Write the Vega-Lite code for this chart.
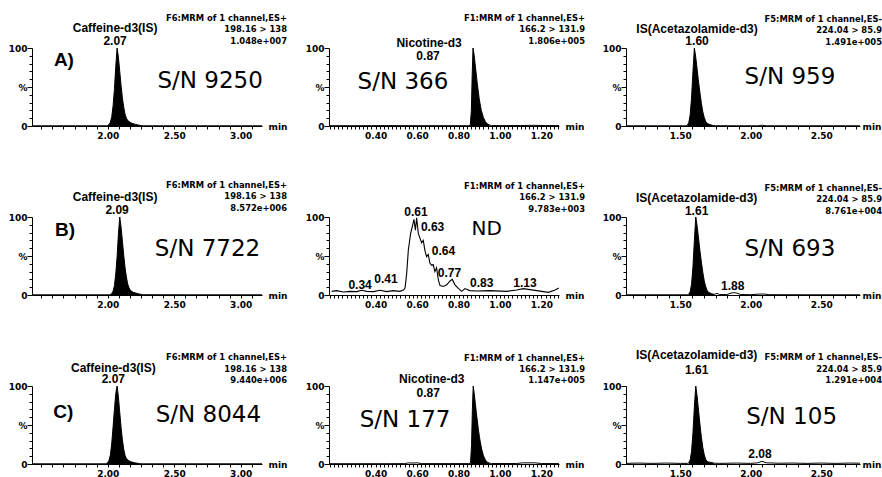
{
"$schema":"https://vega.github.io/schema/vega-lite/v6.json",
"background":"white",
"padding":{"left":8,"top":14,"right":0,"bottom":0},
"bounds":"flush",
"align":"each",
"columns":3,
"spacing":{"row":91,"column":67},
"config":{
 "view":{"stroke":null},
 "axis":{"grid":false,"domainColor":"#000","domainWidth":1,"tickColor":"#000","tickWidth":1,"labelColor":"#000","labelFont":"DejaVu Sans","labelFontWeight":"bold","labelFontSize":9,"labelOverlap":false,"labelFlush":false,"labelBound":false},
 "axisX":{"tickSize":3,"labelPadding":2,"titleFont":"DejaVu Sans","titleFontWeight":"bold","titleFontSize":9,"titleColor":"#000","titleX":236,"titleY":0,"titleAlign":"left","titleBaseline":"middle","titleAnchor":"start"},
 "axisY":{"labelPadding":0},
 "title":{"anchor":"end","frame":"group","align":"right","font":"DejaVu Sans","fontWeight":"bold","fontSize":8.4,"lineHeight":11.3,"offset":0,"color":"#000"}
},
"datasets":{
"tr":[
{"p":"A1","t":1.43,"v":0.3,"f":0},{"p":"A1","t":1.6,"v":0.3,"f":0},{"p":"A1","t":1.8,"v":0.3,"f":0},{"p":"A1","t":1.99,"v":0.3,"f":0},{"p":"A1","t":2.0,"v":0.8,"f":1},{"p":"A1","t":2.01,"v":2,"f":1},{"p":"A1","t":2.02,"v":5,"f":1},{"p":"A1","t":2.03,"v":12,"f":1},{"p":"A1","t":2.04,"v":26,"f":1},{"p":"A1","t":2.05,"v":47,"f":1},{"p":"A1","t":2.06,"v":76,"f":1},{"p":"A1","t":2.07,"v":100,"f":1},{"p":"A1","t":2.08,"v":88,"f":1},{"p":"A1","t":2.09,"v":70,"f":1},{"p":"A1","t":2.1,"v":52,"f":1},{"p":"A1","t":2.11,"v":36,"f":1},{"p":"A1","t":2.12,"v":24,"f":1},{"p":"A1","t":2.13,"v":15,"f":1},{"p":"A1","t":2.14,"v":10,"f":1},{"p":"A1","t":2.15,"v":7,"f":1},{"p":"A1","t":2.17,"v":4.5,"f":1},{"p":"A1","t":2.19,"v":3,"f":1},{"p":"A1","t":2.21,"v":2,"f":1},{"p":"A1","t":2.23,"v":1.2,"f":1},{"p":"A1","t":2.25,"v":0.6,"f":1},{"p":"A1","t":2.27,"v":0.3,"f":0},{"p":"A1","t":2.5,"v":0.3,"f":0},{"p":"A1","t":2.8,"v":0.3,"f":0},{"p":"A1","t":3.16,"v":0.3,"f":0},
{"p":"B1","t":1.43,"v":0.3,"f":0},{"p":"B1","t":1.7,"v":0.3,"f":0},{"p":"B1","t":2.01,"v":0.3,"f":0},{"p":"B1","t":2.02,"v":0.8,"f":1},{"p":"B1","t":2.03,"v":2,"f":1},{"p":"B1","t":2.04,"v":5,"f":1},{"p":"B1","t":2.05,"v":12,"f":1},{"p":"B1","t":2.06,"v":27,"f":1},{"p":"B1","t":2.07,"v":49,"f":1},{"p":"B1","t":2.08,"v":78,"f":1},{"p":"B1","t":2.09,"v":100,"f":1},{"p":"B1","t":2.1,"v":87,"f":1},{"p":"B1","t":2.11,"v":69,"f":1},{"p":"B1","t":2.12,"v":51,"f":1},{"p":"B1","t":2.13,"v":35,"f":1},{"p":"B1","t":2.14,"v":23,"f":1},{"p":"B1","t":2.15,"v":14,"f":1},{"p":"B1","t":2.16,"v":9,"f":1},{"p":"B1","t":2.17,"v":6,"f":1},{"p":"B1","t":2.19,"v":3.5,"f":1},{"p":"B1","t":2.21,"v":2.5,"f":1},{"p":"B1","t":2.23,"v":1.6,"f":1},{"p":"B1","t":2.25,"v":0.8,"f":1},{"p":"B1","t":2.27,"v":0.4,"f":0},{"p":"B1","t":2.6,"v":0.3,"f":0},{"p":"B1","t":3.16,"v":0.3,"f":0},
{"p":"C1","t":1.43,"v":0.3,"f":0},{"p":"C1","t":1.7,"v":0.3,"f":0},{"p":"C1","t":1.98,"v":0.3,"f":0},{"p":"C1","t":1.99,"v":0.8,"f":1},{"p":"C1","t":2.0,"v":2,"f":1},{"p":"C1","t":2.01,"v":5,"f":1},{"p":"C1","t":2.02,"v":12,"f":1},{"p":"C1","t":2.03,"v":27,"f":1},{"p":"C1","t":2.04,"v":48,"f":1},{"p":"C1","t":2.05,"v":70,"f":1},{"p":"C1","t":2.06,"v":90,"f":1},{"p":"C1","t":2.07,"v":100,"f":1},{"p":"C1","t":2.08,"v":86,"f":1},{"p":"C1","t":2.09,"v":66,"f":1},{"p":"C1","t":2.1,"v":47,"f":1},{"p":"C1","t":2.11,"v":31,"f":1},{"p":"C1","t":2.12,"v":19,"f":1},{"p":"C1","t":2.13,"v":11,"f":1},{"p":"C1","t":2.14,"v":7,"f":1},{"p":"C1","t":2.16,"v":4,"f":1},{"p":"C1","t":2.18,"v":2.5,"f":1},{"p":"C1","t":2.2,"v":1.6,"f":1},{"p":"C1","t":2.22,"v":1,"f":1},{"p":"C1","t":2.24,"v":0.5,"f":1},{"p":"C1","t":2.26,"v":0.3,"f":0},{"p":"C1","t":2.6,"v":0.3,"f":0},{"p":"C1","t":3.16,"v":0.3,"f":0},
{"p":"A2","t":0.175,"v":0.4,"f":0},{"p":"A2","t":0.3,"v":0.4,"f":0},{"p":"A2","t":0.45,"v":0.5,"f":0},{"p":"A2","t":0.6,"v":0.4,"f":0},{"p":"A2","t":0.75,"v":0.4,"f":0},{"p":"A2","t":0.85,"v":0.4,"f":0},{"p":"A2","t":0.857,"v":1,"f":1},{"p":"A2","t":0.862,"v":20,"f":1},{"p":"A2","t":0.866,"v":65,"f":1},{"p":"A2","t":0.87,"v":100,"f":1},{"p":"A2","t":0.875,"v":92,"f":1},{"p":"A2","t":0.88,"v":80,"f":1},{"p":"A2","t":0.885,"v":68,"f":1},{"p":"A2","t":0.89,"v":56,"f":1},{"p":"A2","t":0.895,"v":45,"f":1},{"p":"A2","t":0.9,"v":35,"f":1},{"p":"A2","t":0.905,"v":27,"f":1},{"p":"A2","t":0.91,"v":20,"f":1},{"p":"A2","t":0.92,"v":11,"f":1},{"p":"A2","t":0.93,"v":5.5,"f":1},{"p":"A2","t":0.94,"v":2.5,"f":1},{"p":"A2","t":0.95,"v":1.2,"f":1},{"p":"A2","t":0.96,"v":0.6,"f":0},{"p":"A2","t":1.0,"v":0.5,"f":0},{"p":"A2","t":1.1,"v":0.6,"f":0},{"p":"A2","t":1.16,"v":0.9,"f":0},{"p":"A2","t":1.22,"v":0.6,"f":0},{"p":"A2","t":1.285,"v":0.5,"f":0},
{"p":"C2","t":0.175,"v":0.4,"f":0},{"p":"C2","t":0.3,"v":0.4,"f":0},{"p":"C2","t":0.45,"v":0.4,"f":0},{"p":"C2","t":0.54,"v":0.5,"f":0},{"p":"C2","t":0.56,"v":1.5,"f":0},{"p":"C2","t":0.58,"v":1.2,"f":0},{"p":"C2","t":0.6,"v":1.6,"f":0},{"p":"C2","t":0.62,"v":0.5,"f":0},{"p":"C2","t":0.75,"v":0.5,"f":0},{"p":"C2","t":0.85,"v":0.5,"f":0},{"p":"C2","t":0.858,"v":1,"f":1},{"p":"C2","t":0.863,"v":25,"f":1},{"p":"C2","t":0.867,"v":70,"f":1},{"p":"C2","t":0.871,"v":100,"f":1},{"p":"C2","t":0.876,"v":90,"f":1},{"p":"C2","t":0.881,"v":78,"f":1},{"p":"C2","t":0.886,"v":66,"f":1},{"p":"C2","t":0.891,"v":55,"f":1},{"p":"C2","t":0.896,"v":44,"f":1},{"p":"C2","t":0.901,"v":35,"f":1},{"p":"C2","t":0.906,"v":27,"f":1},{"p":"C2","t":0.912,"v":19,"f":1},{"p":"C2","t":0.92,"v":11,"f":1},{"p":"C2","t":0.93,"v":5,"f":1},{"p":"C2","t":0.94,"v":2.2,"f":1},{"p":"C2","t":0.95,"v":1,"f":1},{"p":"C2","t":0.96,"v":0.6,"f":0},{"p":"C2","t":1.0,"v":0.6,"f":0},{"p":"C2","t":1.08,"v":0.6,"f":0},{"p":"C2","t":1.11,"v":1.5,"f":0},{"p":"C2","t":1.17,"v":1.5,"f":0},{"p":"C2","t":1.2,"v":0.6,"f":0},{"p":"C2","t":1.285,"v":0.5,"f":0},
{"p":"B2","t":0.188,"v":4.7,"f":0},{"p":"B2","t":0.212,"v":5.6,"f":0},{"p":"B2","t":0.244,"v":3.9,"f":0},{"p":"B2","t":0.276,"v":4.7,"f":0},{"p":"B2","t":0.309,"v":4.3,"f":0},{"p":"B2","t":0.333,"v":6.0,"f":0},{"p":"B2","t":0.357,"v":4.7,"f":0},{"p":"B2","t":0.389,"v":4.3,"f":0},{"p":"B2","t":0.421,"v":6.0,"f":0},{"p":"B2","t":0.453,"v":4.3,"f":0},{"p":"B2","t":0.485,"v":5.6,"f":0},{"p":"B2","t":0.517,"v":4.7,"f":0},{"p":"B2","t":0.534,"v":6.4,"f":0},{"p":"B2","t":0.542,"v":9,"f":0},{"p":"B2","t":0.55,"v":28,"f":0},{"p":"B2","t":0.558,"v":58,"f":0},{"p":"B2","t":0.569,"v":79,"f":0},{"p":"B2","t":0.579,"v":90,"f":0},{"p":"B2","t":0.585,"v":97,"f":0},{"p":"B2","t":0.592,"v":83,"f":0},{"p":"B2","t":0.598,"v":99,"f":0},{"p":"B2","t":0.606,"v":79,"f":0},{"p":"B2","t":0.614,"v":73,"f":0},{"p":"B2","t":0.622,"v":67,"f":0},{"p":"B2","t":0.63,"v":70,"f":0},{"p":"B2","t":0.638,"v":57,"f":0},{"p":"B2","t":0.646,"v":49,"f":0},{"p":"B2","t":0.654,"v":52,"f":0},{"p":"B2","t":0.662,"v":41,"f":0},{"p":"B2","t":0.67,"v":38,"f":0},{"p":"B2","t":0.678,"v":39,"f":0},{"p":"B2","t":0.686,"v":30,"f":0},{"p":"B2","t":0.694,"v":35,"f":0},{"p":"B2","t":0.703,"v":19,"f":0},{"p":"B2","t":0.711,"v":12,"f":0},{"p":"B2","t":0.727,"v":11,"f":0},{"p":"B2","t":0.743,"v":13,"f":0},{"p":"B2","t":0.759,"v":18,"f":0},{"p":"B2","t":0.77,"v":20,"f":0},{"p":"B2","t":0.783,"v":13,"f":0},{"p":"B2","t":0.799,"v":8.6,"f":0},{"p":"B2","t":0.815,"v":4.7,"f":0},{"p":"B2","t":0.831,"v":8.2,"f":0},{"p":"B2","t":0.855,"v":5.6,"f":0},{"p":"B2","t":0.887,"v":5.2,"f":0},{"p":"B2","t":0.952,"v":5.6,"f":0},{"p":"B2","t":1.032,"v":4.7,"f":0},{"p":"B2","t":1.081,"v":6.4,"f":0},{"p":"B2","t":1.113,"v":8.2,"f":0},{"p":"B2","t":1.145,"v":6.9,"f":0},{"p":"B2","t":1.21,"v":4.3,"f":0},{"p":"B2","t":1.234,"v":3.4,"f":0},{"p":"B2","t":1.266,"v":6.4,"f":0},{"p":"B2","t":1.284,"v":9,"f":0},
{"p":"A3","t":1.115,"v":0.3,"f":0},{"p":"A3","t":1.3,"v":0.3,"f":0},{"p":"A3","t":1.45,"v":0.3,"f":0},{"p":"A3","t":1.54,"v":0.3,"f":0},{"p":"A3","t":1.55,"v":1,"f":1},{"p":"A3","t":1.56,"v":4,"f":1},{"p":"A3","t":1.57,"v":14,"f":1},{"p":"A3","t":1.58,"v":36,"f":1},{"p":"A3","t":1.59,"v":70,"f":1},{"p":"A3","t":1.6,"v":100,"f":1},{"p":"A3","t":1.61,"v":88,"f":1},{"p":"A3","t":1.62,"v":72,"f":1},{"p":"A3","t":1.63,"v":56,"f":1},{"p":"A3","t":1.64,"v":42,"f":1},{"p":"A3","t":1.65,"v":29,"f":1},{"p":"A3","t":1.66,"v":18,"f":1},{"p":"A3","t":1.67,"v":11,"f":1},{"p":"A3","t":1.68,"v":6,"f":1},{"p":"A3","t":1.69,"v":3.5,"f":1},{"p":"A3","t":1.71,"v":1.8,"f":1},{"p":"A3","t":1.73,"v":0.8,"f":1},{"p":"A3","t":1.75,"v":0.4,"f":0},{"p":"A3","t":1.9,"v":0.3,"f":0},{"p":"A3","t":2.05,"v":0.3,"f":0},{"p":"A3","t":2.08,"v":1,"f":0},{"p":"A3","t":2.11,"v":0.3,"f":0},{"p":"A3","t":2.4,"v":0.3,"f":0},{"p":"A3","t":2.775,"v":0.3,"f":0},
{"p":"B3","t":1.115,"v":0.3,"f":0},{"p":"B3","t":1.3,"v":0.3,"f":0},{"p":"B3","t":1.45,"v":0.3,"f":0},{"p":"B3","t":1.55,"v":0.3,"f":0},{"p":"B3","t":1.56,"v":1,"f":1},{"p":"B3","t":1.57,"v":4,"f":1},{"p":"B3","t":1.58,"v":14,"f":1},{"p":"B3","t":1.59,"v":36,"f":1},{"p":"B3","t":1.6,"v":70,"f":1},{"p":"B3","t":1.61,"v":100,"f":1},{"p":"B3","t":1.62,"v":88,"f":1},{"p":"B3","t":1.63,"v":72,"f":1},{"p":"B3","t":1.64,"v":56,"f":1},{"p":"B3","t":1.65,"v":42,"f":1},{"p":"B3","t":1.66,"v":29,"f":1},{"p":"B3","t":1.67,"v":18,"f":1},{"p":"B3","t":1.68,"v":11,"f":1},{"p":"B3","t":1.69,"v":6,"f":1},{"p":"B3","t":1.7,"v":3.5,"f":1},{"p":"B3","t":1.72,"v":1.8,"f":1},{"p":"B3","t":1.74,"v":0.8,"f":1},{"p":"B3","t":1.76,"v":2,"f":0},{"p":"B3","t":1.78,"v":0.6,"f":0},{"p":"B3","t":1.83,"v":0.5,"f":0},{"p":"B3","t":1.86,"v":2.5,"f":0},{"p":"B3","t":1.88,"v":3,"f":0},{"p":"B3","t":1.9,"v":2.5,"f":0},{"p":"B3","t":1.93,"v":0.6,"f":0},{"p":"B3","t":2.0,"v":0.4,"f":0},{"p":"B3","t":2.06,"v":1.2,"f":0},{"p":"B3","t":2.1,"v":1.2,"f":0},{"p":"B3","t":2.13,"v":0.4,"f":0},{"p":"B3","t":2.4,"v":0.3,"f":0},{"p":"B3","t":2.775,"v":0.3,"f":0},
{"p":"C3","t":1.115,"v":0.8,"f":0},{"p":"C3","t":1.2,"v":1.2,"f":0},{"p":"C3","t":1.3,"v":0.8,"f":0},{"p":"C3","t":1.4,"v":1.2,"f":0},{"p":"C3","t":1.5,"v":0.8,"f":0},{"p":"C3","t":1.55,"v":0.8,"f":0},{"p":"C3","t":1.56,"v":1.5,"f":1},{"p":"C3","t":1.57,"v":5,"f":1},{"p":"C3","t":1.58,"v":16,"f":1},{"p":"C3","t":1.59,"v":40,"f":1},{"p":"C3","t":1.6,"v":73,"f":1},{"p":"C3","t":1.61,"v":100,"f":1},{"p":"C3","t":1.62,"v":86,"f":1},{"p":"C3","t":1.63,"v":68,"f":1},{"p":"C3","t":1.64,"v":50,"f":1},{"p":"C3","t":1.65,"v":34,"f":1},{"p":"C3","t":1.66,"v":21,"f":1},{"p":"C3","t":1.67,"v":12,"f":1},{"p":"C3","t":1.68,"v":6,"f":1},{"p":"C3","t":1.69,"v":3.5,"f":1},{"p":"C3","t":1.7,"v":2.5,"f":1},{"p":"C3","t":1.72,"v":2,"f":1},{"p":"C3","t":1.74,"v":1,"f":1},{"p":"C3","t":1.78,"v":0.8,"f":0},{"p":"C3","t":1.9,"v":1.2,"f":0},{"p":"C3","t":2.0,"v":0.8,"f":0},{"p":"C3","t":2.05,"v":1.5,"f":0},{"p":"C3","t":2.08,"v":3.5,"f":0},{"p":"C3","t":2.11,"v":1.5,"f":0},{"p":"C3","t":2.2,"v":1,"f":0},{"p":"C3","t":2.3,"v":1.2,"f":0},{"p":"C3","t":2.4,"v":0.8,"f":0},{"p":"C3","t":2.5,"v":1.2,"f":0},{"p":"C3","t":2.6,"v":0.8,"f":0},{"p":"C3","t":2.7,"v":1.2,"f":0},{"p":"C3","t":2.775,"v":1,"f":0}
],
"lb":[
{"p":"A1","t":2.055,"v":125.6,"s":"Caffeine-d3(IS)","k":"pk"},{"p":"A1","t":2.055,"v":109,"s":"2.07","k":"pk"},{"p":"A1","t":1.67,"v":84.6,"s":"A)","k":"tag"},{"p":"A1","t":2.77,"v":58.3,"s":"S/N 9250","k":"sn"},
{"p":"A2","t":0.658,"v":106.4,"s":"Nicotine-d3","k":"pk"},{"p":"A2","t":0.653,"v":89.7,"s":"0.87","k":"pk"},{"p":"A2","t":0.532,"v":56.4,"s":"S/N 366","k":"sn"},
{"p":"A3","t":1.619,"v":124,"s":"IS(Acetazolamide-d3)","k":"pk"},{"p":"A3","t":1.619,"v":109,"s":"1.60","k":"pk"},{"p":"A3","t":2.278,"v":62.5,"s":"S/N 959","k":"sn"},
{"p":"B1","t":2.055,"v":125.7,"s":"Caffeine-d3(IS)","k":"pk"},{"p":"B1","t":2.07,"v":108.6,"s":"2.09","k":"pk"},{"p":"B1","t":1.678,"v":83.7,"s":"B)","k":"tag"},{"p":"B1","t":2.75,"v":59.2,"s":"S/N 7722","k":"sn"},
{"p":"B2","t":0.595,"v":106.8,"s":"0.61","k":"pk"},{"p":"B2","t":0.675,"v":87.5,"s":"0.63","k":"pk"},{"p":"B2","t":0.727,"v":56.8,"s":"0.64","k":"pk"},{"p":"B2","t":0.756,"v":28,"s":"0.77","k":"pk"},{"p":"B2","t":0.912,"v":15,"s":"0.83","k":"pk"},{"p":"B2","t":1.121,"v":15,"s":"1.13","k":"pk"},{"p":"B2","t":0.325,"v":13,"s":"0.34","k":"pk"},{"p":"B2","t":0.45,"v":20.3,"s":"0.41","k":"pk"},{"p":"B2","t":0.936,"v":85,"s":"ND","k":"sn"},
{"p":"B3","t":1.616,"v":124.6,"s":"IS(Acetazolamide-d3)","k":"pk"},{"p":"B3","t":1.616,"v":107.7,"s":"1.61","k":"pk"},{"p":"B3","t":2.278,"v":59.6,"s":"S/N 693","k":"sn"},{"p":"B3","t":1.872,"v":12,"s":"1.88","k":"pk"},
{"p":"C1","t":2.042,"v":122.6,"s":"Caffeine-d3(IS)","k":"pk"},{"p":"C1","t":2.042,"v":108.6,"s":"2.07","k":"pk"},{"p":"C1","t":1.666,"v":66.5,"s":"C)","k":"tag"},{"p":"C1","t":2.757,"v":63,"s":"S/N 8044","k":"sn"},
{"p":"C2","t":0.671,"v":108.8,"s":"Nicotine-d3","k":"pk"},{"p":"C2","t":0.654,"v":91.3,"s":"0.87","k":"pk"},{"p":"C2","t":0.542,"v":57,"s":"S/N 177","k":"sn"},
{"p":"C3","t":1.616,"v":139.4,"s":"IS(Acetazolamide-d3)","k":"pk"},{"p":"C3","t":1.616,"v":121,"s":"1.61","k":"pk"},{"p":"C3","t":2.29,"v":60,"s":"S/N 105","k":"sn"},{"p":"C3","t":2.065,"v":12.9,"s":"2.08","k":"pk"}
]
},
"concat":[
 {"width":230,"height":78,"title":{"text":["F6:MRM of 1 channel,ES+","198.16 > 138","1.048e+007"],"dx":25,"dy":27},
  "encoding":{"x":{"field":"t","type":"quantitative","scale":{"domain":[1.43,3.16],"nice":false,"zero":false},"axis":{"values":[1.5,1.5833,1.6667,1.75,1.8333,1.9167,2,2.0833,2.1667,2.25,2.3333,2.4167,2.5,2.5833,2.6667,2.75,2.8333,2.9167,3,3.0833],"labelExpr":"indexof(['2.00','2.50','3.00'],format(datum.value,'.2f'))>=0?format(datum.value,'.2f'):''","title":"min"}},
   "y":{"field":"v","type":"quantitative","scale":{"domain":[0,100],"nice":false},"axis":{"values":[0,10,20,30,40,50,60,70,80,90,100],"labelExpr":"datum.value==100?'100':datum.value==50?'%':datum.value==0?'0':''","tickSize":{"condition":{"test":"datum.value%50==0","value":5},"value":3},"title":null}}},
  "layer":[
   {"data":{"name":"tr"},"transform":[{"filter":"datum.p=='A1'&&datum.f==1"}],"mark":{"type":"area","color":"#000"}},
   {"data":{"name":"tr"},"transform":[{"filter":"datum.p=='A1'"}],"mark":{"type":"line","color":"#000","strokeWidth":1}},
   {"data":{"name":"lb"},"transform":[{"filter":"datum.p=='A1'&&datum.k!='sn'"}],"mark":{"type":"text","font":"Liberation Sans","fontWeight":"bold","color":"#000"},"encoding":{"text":{"field":"s","type":"nominal"},"size":{"condition":{"test":"datum.k=='tag'","value":19},"value":12}}},
   {"data":{"name":"lb"},"transform":[{"filter":"datum.p=='A1'&&datum.k=='sn'"}],"mark":{"type":"text","font":"DejaVu Sans","color":"#000"},"encoding":{"text":{"field":"s","type":"nominal"},"size":{"condition":{"test":"datum.s=='ND'","value":20},"value":23}}}
  ]},
 {"width":230,"height":78,"title":{"text":["F1:MRM of 1 channel,ES+","166.2 > 131.9","1.806e+005"],"dx":26,"dy":12},
  "encoding":{"x":{"field":"t","type":"quantitative","scale":{"domain":[0.175,1.285],"nice":false,"zero":false},"axis":{"values":[0.18,0.2,0.22,0.24,0.26,0.28,0.3,0.32,0.34,0.36,0.38,0.4,0.42,0.44,0.46,0.48,0.5,0.52,0.54,0.56,0.58,0.6,0.62,0.64,0.66,0.68,0.7,0.72,0.74,0.76,0.78,0.8,0.82,0.84,0.86,0.88,0.9,0.92,0.94,0.96,0.98,1,1.02,1.04,1.06,1.08,1.1,1.12,1.14,1.16,1.18,1.2,1.22,1.24,1.26,1.28],"labelExpr":"indexof(['0.40','0.60','0.80','1.00','1.20'],format(datum.value,'.2f'))>=0?format(datum.value,'.2f'):''","title":"min"}},
   "y":{"field":"v","type":"quantitative","scale":{"domain":[0,100],"nice":false},"axis":{"values":[0,10,20,30,40,50,60,70,80,90,100],"labelExpr":"datum.value==100?'100':datum.value==50?'%':datum.value==0?'0':''","tickSize":{"condition":{"test":"datum.value%50==0","value":5},"value":3},"title":null}}},
  "layer":[
   {"data":{"name":"tr"},"transform":[{"filter":"datum.p=='A2'&&datum.f==1"}],"mark":{"type":"area","color":"#000"}},
   {"data":{"name":"tr"},"transform":[{"filter":"datum.p=='A2'"}],"mark":{"type":"line","color":"#000","strokeWidth":1}},
   {"data":{"name":"lb"},"transform":[{"filter":"datum.p=='A2'&&datum.k!='sn'"}],"mark":{"type":"text","font":"Liberation Sans","fontWeight":"bold","color":"#000"},"encoding":{"text":{"field":"s","type":"nominal"},"size":{"condition":{"test":"datum.k=='tag'","value":19},"value":12}}},
   {"data":{"name":"lb"},"transform":[{"filter":"datum.p=='A2'&&datum.k=='sn'"}],"mark":{"type":"text","font":"DejaVu Sans","color":"#000"},"encoding":{"text":{"field":"s","type":"nominal"},"size":{"condition":{"test":"datum.s=='ND'","value":20},"value":23}}}
  ]},
 {"width":234,"height":78,"title":{"text":["F5:MRM of 1 channel,ES-","224.04 > 85.9","1.491e+005"],"dx":22,"dy":26.7},
  "encoding":{"x":{"field":"t","type":"quantitative","scale":{"domain":[1.115,2.775],"nice":false,"zero":false},"axis":{"values":[1.1667,1.25,1.3333,1.4167,1.5,1.5833,1.6667,1.75,1.8333,1.9167,2,2.0833,2.1667,2.25,2.3333,2.4167,2.5,2.5833,2.6667,2.75],"labelExpr":"indexof(['1.50','2.00','2.50'],format(datum.value,'.2f'))>=0?format(datum.value,'.2f'):''","title":"min"}},
   "y":{"field":"v","type":"quantitative","scale":{"domain":[0,100],"nice":false},"axis":{"values":[0,10,20,30,40,50,60,70,80,90,100],"labelExpr":"datum.value==100?'100':datum.value==50?'%':datum.value==0?'0':''","tickSize":{"condition":{"test":"datum.value%50==0","value":5},"value":3},"title":null}}},
  "layer":[
   {"data":{"name":"tr"},"transform":[{"filter":"datum.p=='A3'&&datum.f==1"}],"mark":{"type":"area","color":"#000"}},
   {"data":{"name":"tr"},"transform":[{"filter":"datum.p=='A3'"}],"mark":{"type":"line","color":"#000","strokeWidth":1}},
   {"data":{"name":"lb"},"transform":[{"filter":"datum.p=='A3'&&datum.k!='sn'"}],"mark":{"type":"text","font":"Liberation Sans","fontWeight":"bold","color":"#000"},"encoding":{"text":{"field":"s","type":"nominal"},"size":{"condition":{"test":"datum.k=='tag'","value":19},"value":12}}},
   {"data":{"name":"lb"},"transform":[{"filter":"datum.p=='A3'&&datum.k=='sn'"}],"mark":{"type":"text","font":"DejaVu Sans","color":"#000"},"encoding":{"text":{"field":"s","type":"nominal"},"size":{"condition":{"test":"datum.s=='ND'","value":20},"value":23}}}
  ]},
 {"width":230,"height":78,"title":{"text":["F6:MRM of 1 channel,ES+","198.16 > 138","8.572e+006"],"dx":25,"dy":25},
  "encoding":{"x":{"field":"t","type":"quantitative","scale":{"domain":[1.43,3.16],"nice":false,"zero":false},"axis":{"values":[1.5,1.5833,1.6667,1.75,1.8333,1.9167,2,2.0833,2.1667,2.25,2.3333,2.4167,2.5,2.5833,2.6667,2.75,2.8333,2.9167,3,3.0833],"labelExpr":"indexof(['2.00','2.50','3.00'],format(datum.value,'.2f'))>=0?format(datum.value,'.2f'):''","title":"min"}},
   "y":{"field":"v","type":"quantitative","scale":{"domain":[0,100],"nice":false},"axis":{"values":[0,10,20,30,40,50,60,70,80,90,100],"labelExpr":"datum.value==100?'100':datum.value==50?'%':datum.value==0?'0':''","tickSize":{"condition":{"test":"datum.value%50==0","value":5},"value":3},"title":null}}},
  "layer":[
   {"data":{"name":"tr"},"transform":[{"filter":"datum.p=='B1'&&datum.f==1"}],"mark":{"type":"area","color":"#000"}},
   {"data":{"name":"tr"},"transform":[{"filter":"datum.p=='B1'"}],"mark":{"type":"line","color":"#000","strokeWidth":1}},
   {"data":{"name":"lb"},"transform":[{"filter":"datum.p=='B1'&&datum.k!='sn'"}],"mark":{"type":"text","font":"Liberation Sans","fontWeight":"bold","color":"#000"},"encoding":{"text":{"field":"s","type":"nominal"},"size":{"condition":{"test":"datum.k=='tag'","value":19},"value":12}}},
   {"data":{"name":"lb"},"transform":[{"filter":"datum.p=='B1'&&datum.k=='sn'"}],"mark":{"type":"text","font":"DejaVu Sans","color":"#000"},"encoding":{"text":{"field":"s","type":"nominal"},"size":{"condition":{"test":"datum.s=='ND'","value":20},"value":23}}}
  ]},
 {"width":230,"height":78,"title":{"text":["F1:MRM of 1 channel,ES+","166.2 > 131.9","9.783e+003"],"dx":26,"dy":11.3},
  "encoding":{"x":{"field":"t","type":"quantitative","scale":{"domain":[0.175,1.285],"nice":false,"zero":false},"axis":{"values":[0.18,0.2,0.22,0.24,0.26,0.28,0.3,0.32,0.34,0.36,0.38,0.4,0.42,0.44,0.46,0.48,0.5,0.52,0.54,0.56,0.58,0.6,0.62,0.64,0.66,0.68,0.7,0.72,0.74,0.76,0.78,0.8,0.82,0.84,0.86,0.88,0.9,0.92,0.94,0.96,0.98,1,1.02,1.04,1.06,1.08,1.1,1.12,1.14,1.16,1.18,1.2,1.22,1.24,1.26,1.28],"labelExpr":"indexof(['0.40','0.60','0.80','1.00','1.20'],format(datum.value,'.2f'))>=0?format(datum.value,'.2f'):''","title":"min"}},
   "y":{"field":"v","type":"quantitative","scale":{"domain":[0,100],"nice":false},"axis":{"values":[0,10,20,30,40,50,60,70,80,90,100],"labelExpr":"datum.value==100?'100':datum.value==50?'%':datum.value==0?'0':''","tickSize":{"condition":{"test":"datum.value%50==0","value":5},"value":3},"title":null}}},
  "layer":[
   {"data":{"name":"tr"},"transform":[{"filter":"datum.p=='B2'&&datum.f==1"}],"mark":{"type":"area","color":"#000"}},
   {"data":{"name":"tr"},"transform":[{"filter":"datum.p=='B2'"}],"mark":{"type":"line","color":"#000","strokeWidth":1.1}},
   {"data":{"name":"lb"},"transform":[{"filter":"datum.p=='B2'&&datum.k!='sn'"}],"mark":{"type":"text","font":"Liberation Sans","fontWeight":"bold","color":"#000"},"encoding":{"text":{"field":"s","type":"nominal"},"size":{"condition":{"test":"datum.k=='tag'","value":19},"value":12}}},
   {"data":{"name":"lb"},"transform":[{"filter":"datum.p=='B2'&&datum.k=='sn'"}],"mark":{"type":"text","font":"DejaVu Sans","color":"#000"},"encoding":{"text":{"field":"s","type":"nominal"},"size":{"condition":{"test":"datum.s=='ND'","value":20},"value":23}}}
  ]},
 {"width":234,"height":78,"title":{"text":["F5:MRM of 1 channel,ES-","224.04 > 85.9","8.761e+004"],"dx":22,"dy":27.2},
  "encoding":{"x":{"field":"t","type":"quantitative","scale":{"domain":[1.115,2.775],"nice":false,"zero":false},"axis":{"values":[1.1667,1.25,1.3333,1.4167,1.5,1.5833,1.6667,1.75,1.8333,1.9167,2,2.0833,2.1667,2.25,2.3333,2.4167,2.5,2.5833,2.6667,2.75],"labelExpr":"indexof(['1.50','2.00','2.50'],format(datum.value,'.2f'))>=0?format(datum.value,'.2f'):''","title":"min"}},
   "y":{"field":"v","type":"quantitative","scale":{"domain":[0,100],"nice":false},"axis":{"values":[0,10,20,30,40,50,60,70,80,90,100],"labelExpr":"datum.value==100?'100':datum.value==50?'%':datum.value==0?'0':''","tickSize":{"condition":{"test":"datum.value%50==0","value":5},"value":3},"title":null}}},
  "layer":[
   {"data":{"name":"tr"},"transform":[{"filter":"datum.p=='B3'&&datum.f==1"}],"mark":{"type":"area","color":"#000"}},
   {"data":{"name":"tr"},"transform":[{"filter":"datum.p=='B3'"}],"mark":{"type":"line","color":"#000","strokeWidth":1}},
   {"data":{"name":"lb"},"transform":[{"filter":"datum.p=='B3'&&datum.k!='sn'"}],"mark":{"type":"text","font":"Liberation Sans","fontWeight":"bold","color":"#000"},"encoding":{"text":{"field":"s","type":"nominal"},"size":{"condition":{"test":"datum.k=='tag'","value":19},"value":12}}},
   {"data":{"name":"lb"},"transform":[{"filter":"datum.p=='B3'&&datum.k=='sn'"}],"mark":{"type":"text","font":"DejaVu Sans","color":"#000"},"encoding":{"text":{"field":"s","type":"nominal"},"size":{"condition":{"test":"datum.s=='ND'","value":20},"value":23}}}
  ]},
 {"width":230,"height":78,"title":{"text":["F6:MRM of 1 channel,ES+","198.16 > 138","9.440e+006"],"dx":25,"dy":26.1},
  "encoding":{"x":{"field":"t","type":"quantitative","scale":{"domain":[1.43,3.16],"nice":false,"zero":false},"axis":{"values":[1.5,1.5833,1.6667,1.75,1.8333,1.9167,2,2.0833,2.1667,2.25,2.3333,2.4167,2.5,2.5833,2.6667,2.75,2.8333,2.9167,3,3.0833],"labelExpr":"indexof(['2.00','2.50','3.00'],format(datum.value,'.2f'))>=0?format(datum.value,'.2f'):''","title":"min"}},
   "y":{"field":"v","type":"quantitative","scale":{"domain":[0,100],"nice":false},"axis":{"values":[0,10,20,30,40,50,60,70,80,90,100],"labelExpr":"datum.value==100?'100':datum.value==50?'%':datum.value==0?'0':''","tickSize":{"condition":{"test":"datum.value%50==0","value":5},"value":3},"title":null}}},
  "layer":[
   {"data":{"name":"tr"},"transform":[{"filter":"datum.p=='C1'&&datum.f==1"}],"mark":{"type":"area","color":"#000"}},
   {"data":{"name":"tr"},"transform":[{"filter":"datum.p=='C1'"}],"mark":{"type":"line","color":"#000","strokeWidth":1}},
   {"data":{"name":"lb"},"transform":[{"filter":"datum.p=='C1'&&datum.k!='sn'"}],"mark":{"type":"text","font":"Liberation Sans","fontWeight":"bold","color":"#000"},"encoding":{"text":{"field":"s","type":"nominal"},"size":{"condition":{"test":"datum.k=='tag'","value":19},"value":12}}},
   {"data":{"name":"lb"},"transform":[{"filter":"datum.p=='C1'&&datum.k=='sn'"}],"mark":{"type":"text","font":"DejaVu Sans","color":"#000"},"encoding":{"text":{"field":"s","type":"nominal"},"size":{"condition":{"test":"datum.s=='ND'","value":20},"value":23}}}
  ]},
 {"width":230,"height":78,"title":{"text":["F1:MRM of 1 channel,ES+","166.2 > 131.9","1.147e+005"],"dx":26,"dy":15.4},
  "encoding":{"x":{"field":"t","type":"quantitative","scale":{"domain":[0.175,1.285],"nice":false,"zero":false},"axis":{"values":[0.18,0.2,0.22,0.24,0.26,0.28,0.3,0.32,0.34,0.36,0.38,0.4,0.42,0.44,0.46,0.48,0.5,0.52,0.54,0.56,0.58,0.6,0.62,0.64,0.66,0.68,0.7,0.72,0.74,0.76,0.78,0.8,0.82,0.84,0.86,0.88,0.9,0.92,0.94,0.96,0.98,1,1.02,1.04,1.06,1.08,1.1,1.12,1.14,1.16,1.18,1.2,1.22,1.24,1.26,1.28],"labelExpr":"indexof(['0.40','0.60','0.80','1.00','1.20'],format(datum.value,'.2f'))>=0?format(datum.value,'.2f'):''","title":"min"}},
   "y":{"field":"v","type":"quantitative","scale":{"domain":[0,100],"nice":false},"axis":{"values":[0,10,20,30,40,50,60,70,80,90,100],"labelExpr":"datum.value==100?'100':datum.value==50?'%':datum.value==0?'0':''","tickSize":{"condition":{"test":"datum.value%50==0","value":5},"value":3},"title":null}}},
  "layer":[
   {"data":{"name":"tr"},"transform":[{"filter":"datum.p=='C2'&&datum.f==1"}],"mark":{"type":"area","color":"#000"}},
   {"data":{"name":"tr"},"transform":[{"filter":"datum.p=='C2'"}],"mark":{"type":"line","color":"#000","strokeWidth":1}},
   {"data":{"name":"lb"},"transform":[{"filter":"datum.p=='C2'&&datum.k!='sn'"}],"mark":{"type":"text","font":"Liberation Sans","fontWeight":"bold","color":"#000"},"encoding":{"text":{"field":"s","type":"nominal"},"size":{"condition":{"test":"datum.k=='tag'","value":19},"value":12}}},
   {"data":{"name":"lb"},"transform":[{"filter":"datum.p=='C2'&&datum.k=='sn'"}],"mark":{"type":"text","font":"DejaVu Sans","color":"#000"},"encoding":{"text":{"field":"s","type":"nominal"},"size":{"condition":{"test":"datum.s=='ND'","value":20},"value":23}}}
  ]},
 {"width":234,"height":78,"title":{"text":["F5:MRM of 1 channel,ES-","224.04 > 85.9","1.291e+004"],"dx":22,"dy":39.2},
  "encoding":{"x":{"field":"t","type":"quantitative","scale":{"domain":[1.115,2.775],"nice":false,"zero":false},"axis":{"values":[1.1667,1.25,1.3333,1.4167,1.5,1.5833,1.6667,1.75,1.8333,1.9167,2,2.0833,2.1667,2.25,2.3333,2.4167,2.5,2.5833,2.6667,2.75],"labelExpr":"indexof(['1.50','2.00','2.50'],format(datum.value,'.2f'))>=0?format(datum.value,'.2f'):''","title":"min"}},
   "y":{"field":"v","type":"quantitative","scale":{"domain":[0,100],"nice":false},"axis":{"values":[0,10,20,30,40,50,60,70,80,90,100],"labelExpr":"datum.value==100?'100':datum.value==50?'%':datum.value==0?'0':''","tickSize":{"condition":{"test":"datum.value%50==0","value":5},"value":3},"title":null}}},
  "layer":[
   {"data":{"name":"tr"},"transform":[{"filter":"datum.p=='C3'&&datum.f==1"}],"mark":{"type":"area","color":"#000"}},
   {"data":{"name":"tr"},"transform":[{"filter":"datum.p=='C3'"}],"mark":{"type":"line","color":"#000","strokeWidth":1}},
   {"data":{"name":"lb"},"transform":[{"filter":"datum.p=='C3'&&datum.k!='sn'"}],"mark":{"type":"text","font":"Liberation Sans","fontWeight":"bold","color":"#000"},"encoding":{"text":{"field":"s","type":"nominal"},"size":{"condition":{"test":"datum.k=='tag'","value":19},"value":12}}},
   {"data":{"name":"lb"},"transform":[{"filter":"datum.p=='C3'&&datum.k=='sn'"}],"mark":{"type":"text","font":"DejaVu Sans","color":"#000"},"encoding":{"text":{"field":"s","type":"nominal"},"size":{"condition":{"test":"datum.s=='ND'","value":20},"value":23}}}
  ]}
]
}
